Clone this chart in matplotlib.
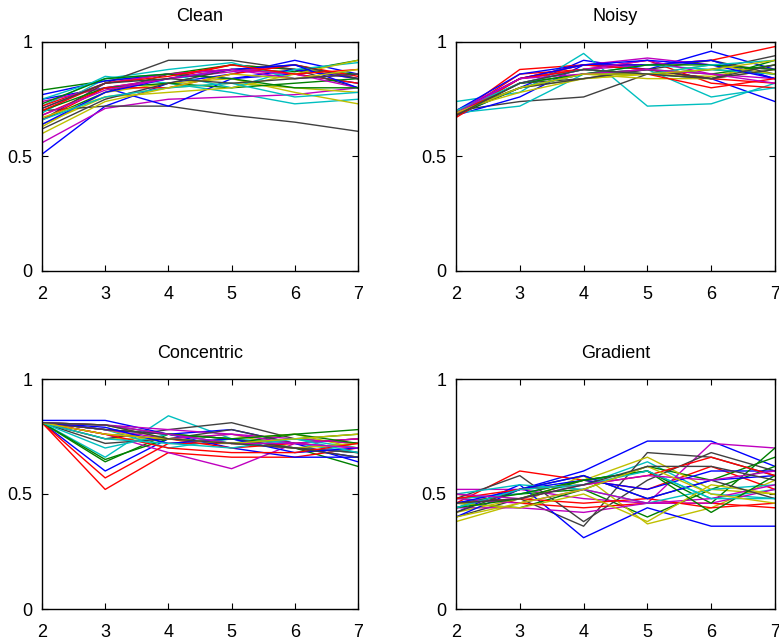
import matplotlib
matplotlib.use("Agg")
import matplotlib.pyplot as plt
import numpy as np

x = [2, 3, 4, 5, 6, 7]
titles = ["Clean", "Noisy", "Concentric", "Gradient"]
colors = [(0, 0, 1), (0, 0.5, 0), (1, 0, 0), (0, 0.75, 0.75),
          (0.75, 0, 0.75), (0.75, 0.75, 0), (0.25, 0.25, 0.25)]

clean = [
    [0.51, 0.72, 0.82, 0.86, 0.92, 0.86],
    [0.79, 0.83, 0.86, 0.88, 0.87, 0.92],
    [0.68, 0.80, 0.84, 0.90, 0.88, 0.84],
    [0.72, 0.85, 0.82, 0.78, 0.73, 0.75],
    [0.56, 0.71, 0.75, 0.76, 0.77, 0.80],
    [0.64, 0.76, 0.80, 0.82, 0.80, 0.78],
    [0.70, 0.72, 0.72, 0.68, 0.65, 0.61],
    [0.75, 0.80, 0.72, 0.84, 0.86, 0.82],
    [0.66, 0.78, 0.86, 0.90, 0.88, 0.86],
    [0.72, 0.82, 0.86, 0.88, 0.86, 0.82],
    [0.69, 0.84, 0.88, 0.91, 0.84, 0.86],
    [0.74, 0.80, 0.84, 0.87, 0.90, 0.84],
    [0.63, 0.78, 0.82, 0.84, 0.78, 0.73],
    [0.66, 0.82, 0.92, 0.92, 0.88, 0.80],
    [0.77, 0.83, 0.86, 0.84, 0.88, 0.84],
    [0.70, 0.80, 0.82, 0.80, 0.82, 0.84],
    [0.66, 0.80, 0.80, 0.86, 0.90, 0.85],
    [0.75, 0.84, 0.86, 0.80, 0.88, 0.91],
    [0.71, 0.82, 0.86, 0.88, 0.86, 0.80],
    [0.67, 0.76, 0.78, 0.80, 0.86, 0.92],
    [0.62, 0.75, 0.82, 0.88, 0.90, 0.84],
    [0.64, 0.78, 0.84, 0.88, 0.90, 0.80],
    [0.73, 0.84, 0.86, 0.84, 0.80, 0.80],
    [0.70, 0.82, 0.85, 0.90, 0.86, 0.88],
    [0.66, 0.76, 0.80, 0.82, 0.76, 0.78],
    [0.68, 0.79, 0.84, 0.88, 0.84, 0.86],
    [0.60, 0.74, 0.80, 0.86, 0.84, 0.88],
    [0.71, 0.82, 0.84, 0.82, 0.84, 0.86],
]

noisy = [
    [0.68, 0.80, 0.92, 0.88, 0.96, 0.88],
    [0.69, 0.82, 0.86, 0.86, 0.84, 0.92],
    [0.68, 0.88, 0.90, 0.90, 0.92, 0.98],
    [0.74, 0.78, 0.95, 0.72, 0.73, 0.82],
    [0.69, 0.84, 0.90, 0.93, 0.90, 0.88],
    [0.70, 0.80, 0.84, 0.86, 0.85, 0.90],
    [0.70, 0.74, 0.76, 0.86, 0.88, 0.94],
    [0.68, 0.76, 0.90, 0.88, 0.84, 0.74],
    [0.69, 0.84, 0.88, 0.86, 0.88, 0.86],
    [0.68, 0.86, 0.88, 0.92, 0.82, 0.80],
    [0.69, 0.72, 0.86, 0.88, 0.76, 0.80],
    [0.70, 0.84, 0.88, 0.90, 0.92, 0.84],
    [0.69, 0.80, 0.86, 0.84, 0.84, 0.88],
    [0.69, 0.82, 0.84, 0.88, 0.92, 0.86],
    [0.70, 0.86, 0.90, 0.90, 0.92, 0.84],
    [0.68, 0.80, 0.86, 0.88, 0.86, 0.90],
    [0.67, 0.84, 0.90, 0.88, 0.84, 0.82],
    [0.69, 0.80, 0.86, 0.90, 0.88, 0.86],
    [0.68, 0.82, 0.88, 0.92, 0.86, 0.84],
    [0.70, 0.78, 0.84, 0.86, 0.90, 0.86],
    [0.69, 0.80, 0.84, 0.88, 0.84, 0.88],
    [0.69, 0.84, 0.90, 0.92, 0.90, 0.84],
    [0.68, 0.82, 0.86, 0.90, 0.90, 0.88],
    [0.68, 0.84, 0.88, 0.86, 0.80, 0.84],
    [0.70, 0.82, 0.88, 0.86, 0.90, 0.92],
    [0.69, 0.84, 0.86, 0.88, 0.86, 0.82],
    [0.69, 0.80, 0.86, 0.86, 0.88, 0.92],
    [0.68, 0.82, 0.88, 0.86, 0.84, 0.90],
]

concentric = [
    [0.81, 0.60, 0.74, 0.72, 0.70, 0.66],
    [0.81, 0.64, 0.76, 0.74, 0.70, 0.62],
    [0.81, 0.52, 0.68, 0.66, 0.66, 0.70],
    [0.81, 0.66, 0.84, 0.74, 0.72, 0.68],
    [0.81, 0.76, 0.68, 0.61, 0.72, 0.70],
    [0.81, 0.74, 0.74, 0.76, 0.70, 0.72],
    [0.81, 0.74, 0.78, 0.81, 0.74, 0.72],
    [0.82, 0.82, 0.76, 0.78, 0.72, 0.64],
    [0.81, 0.78, 0.76, 0.72, 0.76, 0.78],
    [0.81, 0.57, 0.72, 0.72, 0.70, 0.68],
    [0.81, 0.78, 0.70, 0.74, 0.70, 0.68],
    [0.81, 0.80, 0.78, 0.76, 0.74, 0.72],
    [0.81, 0.78, 0.72, 0.74, 0.76, 0.70],
    [0.81, 0.72, 0.74, 0.78, 0.72, 0.74],
    [0.81, 0.78, 0.76, 0.70, 0.66, 0.66],
    [0.81, 0.65, 0.74, 0.72, 0.74, 0.76],
    [0.81, 0.76, 0.74, 0.70, 0.72, 0.74],
    [0.81, 0.70, 0.76, 0.72, 0.74, 0.70],
    [0.81, 0.78, 0.74, 0.76, 0.72, 0.74],
    [0.81, 0.80, 0.74, 0.72, 0.70, 0.72],
    [0.81, 0.78, 0.76, 0.74, 0.70, 0.68],
    [0.81, 0.79, 0.72, 0.74, 0.68, 0.70],
    [0.81, 0.80, 0.76, 0.74, 0.76, 0.72],
    [0.81, 0.76, 0.70, 0.68, 0.68, 0.72],
    [0.81, 0.74, 0.72, 0.70, 0.74, 0.68],
    [0.81, 0.80, 0.76, 0.72, 0.72, 0.70],
    [0.81, 0.76, 0.74, 0.72, 0.74, 0.76],
    [0.81, 0.80, 0.74, 0.72, 0.70, 0.66],
]

gradient = [
    [0.44, 0.52, 0.60, 0.73, 0.73, 0.62],
    [0.48, 0.50, 0.52, 0.40, 0.52, 0.62],
    [0.46, 0.60, 0.56, 0.52, 0.62, 0.52],
    [0.44, 0.52, 0.54, 0.64, 0.50, 0.48],
    [0.52, 0.52, 0.48, 0.46, 0.72, 0.70],
    [0.38, 0.46, 0.58, 0.37, 0.44, 0.56],
    [0.40, 0.48, 0.36, 0.68, 0.66, 0.58],
    [0.42, 0.54, 0.31, 0.44, 0.36, 0.36],
    [0.46, 0.44, 0.52, 0.62, 0.56, 0.66],
    [0.50, 0.46, 0.44, 0.46, 0.46, 0.44],
    [0.48, 0.50, 0.56, 0.60, 0.48, 0.52],
    [0.44, 0.44, 0.42, 0.46, 0.46, 0.52],
    [0.42, 0.48, 0.56, 0.66, 0.52, 0.50],
    [0.48, 0.58, 0.38, 0.56, 0.68, 0.60],
    [0.40, 0.52, 0.56, 0.52, 0.60, 0.60],
    [0.46, 0.50, 0.56, 0.60, 0.46, 0.70],
    [0.46, 0.48, 0.46, 0.48, 0.44, 0.46],
    [0.50, 0.54, 0.52, 0.46, 0.52, 0.54],
    [0.48, 0.46, 0.52, 0.46, 0.48, 0.54],
    [0.46, 0.44, 0.50, 0.38, 0.54, 0.50],
    [0.42, 0.52, 0.58, 0.48, 0.56, 0.48],
    [0.46, 0.52, 0.58, 0.48, 0.56, 0.58],
    [0.44, 0.48, 0.56, 0.60, 0.42, 0.58],
    [0.48, 0.52, 0.54, 0.58, 0.66, 0.58],
    [0.44, 0.52, 0.54, 0.60, 0.48, 0.48],
    [0.50, 0.48, 0.54, 0.58, 0.56, 0.60],
    [0.40, 0.46, 0.52, 0.62, 0.50, 0.46],
    [0.46, 0.48, 0.54, 0.62, 0.62, 0.56],
]

datasets = [clean, noisy, concentric, gradient]
W, H = 779, 643
plt.rcParams['font.family'] = ['Liberation Sans', 'DejaVu Sans']
fig = plt.figure(figsize=(W / 100, H / 100), dpi=100)
boxes = [(42, 42, 358, 271), (456, 42, 775, 271),
         (42, 379, 358, 609), (456, 379, 775, 609)]

for (x0, y0, x1, y1), title, data in zip(boxes, titles, datasets):
    ax = fig.add_axes([x0 / W, 1 - y1 / H, (x1 - x0) / W, (y1 - y0) / H])
    for i, row in enumerate(data):
        ax.plot(x, row, color=colors[i % 7], lw=1.0)
    ax.set_xlim(2, 7)
    ax.set_ylim(0, 1)
    ax.set_xticks(x)
    ax.set_xticklabels([str(v) for v in x])
    ax.set_yticks([0, 0.5, 1])
    ax.set_yticklabels(["0", "0.5", "1"])
    ax.tick_params(direction='in', top=True, right=True, length=4,
                   width=0.8, labelsize=13)
    ax.tick_params(axis='x', pad=11)
    ax.tick_params(axis='y', pad=7)
    for s in ax.spines.values():
        s.set_linewidth(1.0)
    ax.set_title(title, fontsize=13, pad=15)

fig.savefig("out.png", dpi=100)
